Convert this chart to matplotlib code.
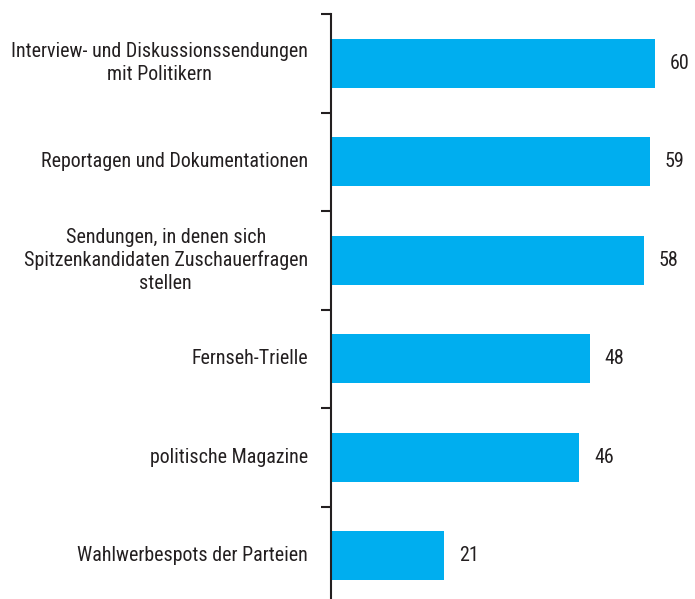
import matplotlib.pyplot as plt
import numpy as np

categories = [
    "Interview- und Diskussionssendungen\nmit Politikern",
    "Reportagen und Dokumentationen",
    "Sendungen, in denen sich\nSpitzenkandidaten Zuschauerfragen\nstellen",
    "Fernseh-Trielle",
    "politische Magazine",
    "Wahlwerbespots der Parteien",
]
values = [60, 59, 58, 48, 46, 21]

plt.rcParams["font.family"] = ["Roboto Condensed", "Liberation Sans", "DejaVu Sans"]

fig = plt.figure(figsize=(6.95, 5.99), dpi=100)
ax = fig.add_axes([331 / 695, -6 / 599, 364 / 695, 591 / 599])

n = len(values)
y = np.arange(n)
ax.barh(y, values, height=0.5, color="#00AEEF")
ax.set_ylim(n - 0.5, -0.5)
ax.set_xlim(0, 364 / 5.4)

for yi, v in zip(y, values):
    ax.text(v + 2.7, yi, str(v), va="center", ha="left", fontsize=14.4, color="#231F20")
for yi, c in zip(y, categories):
    ax.text(-4.3, yi, c, va="center", ha="right", multialignment="center",
            fontsize=14.4, color="#231F20", linespacing=1.25)

ax.set_yticks(np.arange(n + 1) - 0.5)
ax.set_yticklabels([])
ax.tick_params(axis="y", direction="out", length=7, width=1.5, color="#231F20")
ax.set_xticks([])
for s in ["top", "right", "bottom"]:
    ax.spines[s].set_visible(False)
ax.spines["left"].set_linewidth(1.5)
ax.spines["left"].set_color("#231F20")

fig.savefig("out.png", dpi=100, facecolor="white")
